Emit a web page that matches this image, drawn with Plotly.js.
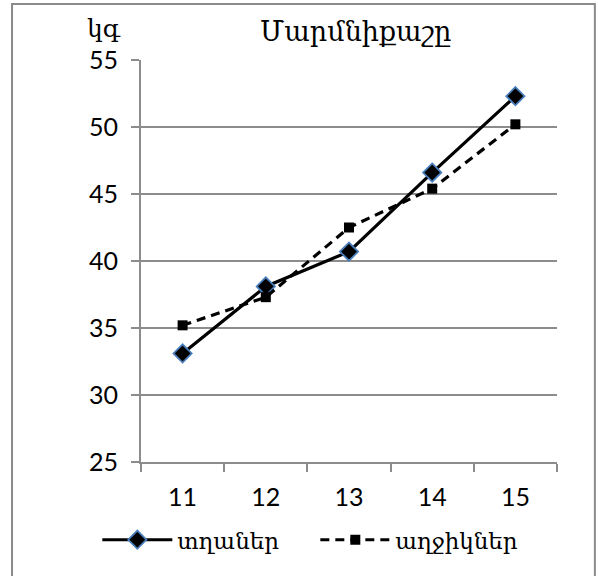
<!DOCTYPE html>
<html>
<head>
<meta charset="utf-8">
<script src="https://cdn.plot.ly/plotly-3.0.1.min.js"></script>
<style>
  html, body { margin: 0; padding: 0; background: #fff; }
  #chart { width: 598px; height: 576px; }
</style>
</head>
<body>
<div id="chart"></div>
<script>
// Average body weight (kg) by age
const ages = ['11', '12', '13', '14', '15'];
const boys = [33.1, 38.1, 40.7, 46.6, 52.3];
const girls = [35.2, 37.3, 42.5, 45.4, 50.2];
const yTicks = [25, 30, 35, 40, 45, 50, 55];

const seriesNames = ['տղաներ', 'աղջիկներ'];
const chartTitle = 'Մարմնիքաշը';
const unitLabel = 'կգ';

const armFont = '"DejaVu Serif", serif';
const numFont = 'Lato, "Open Sans", sans-serif';
const gridColor = '#8c8c8c';

const traces = [
  {
    x: ages, y: boys, name: seriesNames[0],
    type: 'scatter', mode: 'lines+markers',
    line: { color: '#000', width: 3.2 },
    marker: { symbol: 'diamond', size: 14, color: '#000',
              line: { color: '#4a7ebb', width: 1.8 } }
  },
  {
    x: ages, y: girls, name: seriesNames[1],
    type: 'scatter', mode: 'lines+markers',
    line: { color: '#000', width: 3.2, dash: '9px,6px' },
    marker: { symbol: 'square', size: 10, color: '#000' }
  }
];

const layout = {
  width: 598, height: 576,
  margin: { l: 141, r: 41, t: 60, b: 114, autoexpand: false },
  paper_bgcolor: '#fff', plot_bgcolor: '#fff',
  showlegend: true,
  legend: {
    orientation: 'h', x: -0.105, xanchor: 'left', y: -0.14, yanchor: 'top',
    font: { family: armFont, size: 23, color: '#000' },
    itemwidth: 70, entrywidth: 133, entrywidthmode: 'pixels',
    tracegroupgap: 0, traceorder: 'normal'
  },
  xaxis: {
    type: 'category', range: [-0.5, 4.5],
    tickson: 'boundaries', ticks: 'outside', ticklen: 8, tickwidth: 2,
    tickcolor: gridColor, showline: true, linecolor: gridColor, linewidth: 2,
    showgrid: false, zeroline: false, ticklabelstandoff: 12,
    tickfont: { family: numFont, size: 25, color: '#000' }
  },
  yaxis: {
    range: [25, 55], tickvals: yTicks, ticks: 'outside', ticklen: 8, tickwidth: 2,
    tickcolor: gridColor, showline: true, linecolor: gridColor, linewidth: 2,
    showgrid: true, gridcolor: gridColor, gridwidth: 2, zeroline: false,
    ticklabelstandoff: 8,
    tickfont: { family: numFont, size: 25, color: '#000' }
  },
  annotations: [
    { text: chartTitle, xref: 'paper', yref: 'paper', x: 0.515, y: 1.072,
      xanchor: 'center', yanchor: 'middle', showarrow: false,
      font: { family: armFont, size: 27, color: '#000' } },
    { text: unitLabel, xref: 'paper', yref: 'paper', x: -0.089, y: 1.078,
      xanchor: 'center', yanchor: 'middle', showarrow: false,
      font: { family: armFont, size: 25, color: '#000' } }
  ],
  shapes: [
    { type: 'rect', xref: 'paper', yref: 'paper', layer: 'below',
      x0: -0.31, x1: 1.091, y0: -0.32, y1: 1.139,
      line: { color: '#8a8a8a', width: 2 }, fillcolor: 'rgba(0,0,0,0)' }
  ]
};

Plotly.newPlot('chart', traces, layout, { displayModeBar: false, staticPlot: true });
</script>
</body>
</html>
